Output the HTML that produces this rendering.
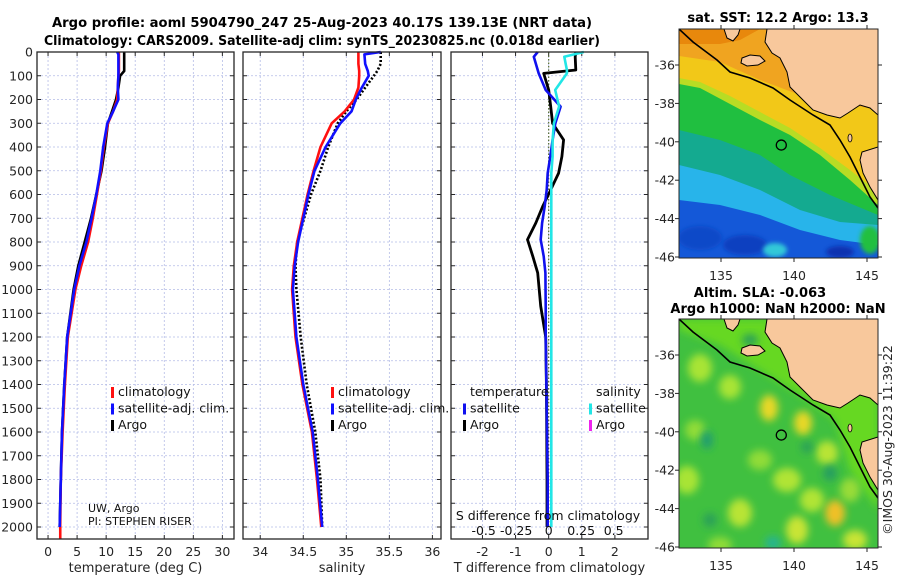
<!DOCTYPE html>
<html><head><meta charset="utf-8">
<style>
html,body{margin:0;padding:0;background:#fff;}
svg{display:block;font-family:"DejaVu Sans","Liberation Sans",sans-serif;}
</style></head>
<body>
<svg id="fig" width="900" height="580" viewBox="0 0 900 580" xmlns="http://www.w3.org/2000/svg">
<defs>
  <filter id="blur4" x="-50%" y="-50%" width="200%" height="200%"><feGaussianBlur stdDeviation="4"/></filter>
  <filter id="blur2" x="-50%" y="-50%" width="200%" height="200%"><feGaussianBlur stdDeviation="2"/></filter>
  <clipPath id="clipTop"><rect x="679" y="29" width="199" height="229"/></clipPath>
  <clipPath id="clipBot"><rect x="679" y="319" width="199" height="229"/></clipPath>
</defs>
<g font-weight="bold" font-size="13" fill="#000" text-anchor="middle">
  <text x="322" y="27" textLength="540" lengthAdjust="spacingAndGlyphs">Argo profile: aoml 5904790_247 25-Aug-2023 40.17S 139.13E (NRT data)</text>
  <text x="322" y="45" textLength="556" lengthAdjust="spacingAndGlyphs">Climatology: CARS2009. Satellite-adj clim: synTS_20230825.nc (0.018d earlier)</text>
</g>
<g id="panels"></g>
<g id="maps"></g>
<text x="0" y="0" transform="translate(892,440) rotate(-90)" text-anchor="middle" font-size="12.5" fill="#262626">©IMOS 30-Aug-2023 11:39:22</text>
</svg>
<script>
// ---------- profile data ----------
const depths = [0,10,50,80,100,150,200,250,300,400,500,600,700,800,900,1000,1200,1400,1600,1800,2000];
const climT = [12.2,12.2,12.2,12.2,12.1,12.0,11.9,11.2,10.3,9.6,9.1,8.4,7.7,6.9,5.7,4.7,3.4,2.9,2.5,2.2,2.1];
const satT  = [11.9,12.1,12.1,12.1,12.1,12.0,12.1,11.2,10.2,9.5,9.0,8.3,7.5,6.6,5.4,4.5,3.3,2.8,2.4,2.2,2.0];
const argoT = [13.1,13.1,13.1,13.1,12.4,12.1,11.7,11.0,10.3,9.8,9.2,8.3,7.4,6.3,5.2,4.4,3.3,2.8,2.4,2.2,2.0];
const climS = [35.14,35.14,35.14,35.15,35.15,35.14,35.09,34.98,34.83,34.70,34.62,34.55,34.49,34.43,34.39,34.37,34.41,34.49,34.60,34.66,34.71];
const satS  = [35.40,35.21,35.22,35.25,35.26,35.18,35.11,35.06,34.93,34.76,34.63,34.56,34.50,34.44,34.40,34.38,34.42,34.50,34.61,34.67,34.72];
const argoS = [35.40,35.40,35.40,35.36,35.32,35.22,35.12,35.00,34.90,34.79,34.70,34.59,34.51,34.43,34.41,34.42,34.47,34.54,34.64,34.70,34.72];
const diffDepths = [0,20,76,90,160,230,300,370,440,510,580,650,720,790,860,930,1070,1200,1400,1600,1800,2000];
const argoTdiff = [0.82,0.80,0.82,-0.15,0.00,0.06,0.12,0.45,0.40,0.30,0.06,-0.18,-0.39,-0.64,-0.48,-0.33,-0.24,-0.09,-0.07,-0.06,-0.05,-0.05];
const satTdiff  = [-0.33,-0.45,-0.33,-0.30,-0.09,0.36,0.20,0.12,0.05,-0.03,-0.06,-0.12,-0.20,-0.24,-0.15,-0.10,-0.09,-0.09,-0.07,-0.05,-0.03,-0.03];
const satSdiff  = [0.27,0.12,0.14,0.14,0.05,0.08,0.04,0.03,0.03,0.02,0.02,0.02,0.02,0.02,0.02,0.02,0.02,0.02,0.02,0.02,0.02,0.02];
const depthTicks = [0,100,200,300,400,500,600,700,800,900,1000,1100,1200,1300,1400,1500,1600,1700,1800,1900,2000];
const tTicks = [0,5,10,15,20,25,30];
const sTicks = [34,34.5,35,35.5,36];
const dTicks = [-2,-1,0,1,2];
const sdTicks = [-0.5,-0.25,0,0.25,0.5];
const sdTickLabels = ["-0.5","-0.25","0","0.25","0.5"];
const lonTicks = [135,140,145];
const latTicks = [-36,-38,-40,-42,-44,-46];
const argoLon = 139.13, argoLat = -40.17;

const NS = "http://www.w3.org/2000/svg";
function el(tag, attrs, parent){const e=document.createElementNS(NS,tag);for(const k in attrs)e.setAttribute(k,attrs[k]);if(parent)parent.appendChild(e);return e;}
function txt(str, attrs, parent){const e=el('text',attrs,parent);e.textContent=str;return e;}

const TOP=52, BOT=539;
const yD = d => TOP + d*0.2375;
const panelsG = document.getElementById('panels');

function makePanel(name, x0, x1, xmin, xmax){
  const g = el('g',{},panelsG);
  
  
  const sx = v => x0 + (v-xmin)/(xmax-xmin)*(x1-x0);
  return {g, sx, x0, x1};
}
function frame(p, xt, xtLabels, title){
  const g=p.g;
  const grid = el('g',{stroke:'#b4bce6','stroke-width':'0.8','stroke-dasharray':'2,2'},g);
  
  
  depthTicks.forEach(d=>{ el('line',{x1:p.x0,x2:p.x1,y1:yD(d),y2:yD(d)},grid); });
  xt.forEach(v=>{ el('line',{x1:p.sx(v),x2:p.sx(v),y1:TOP,y2:BOT},grid); });
  const tk = el('g',{stroke:'#262626','stroke-width':'1'},g);
  depthTicks.forEach(d=>{ el('line',{x1:p.x0,x2:p.x0+4,y1:yD(d),y2:yD(d)},tk); el('line',{x1:p.x1,x2:p.x1-4,y1:yD(d),y2:yD(d)},tk); });
  xt.forEach(v=>{ el('line',{x1:p.sx(v),x2:p.sx(v),y1:BOT,y2:BOT-4},tk); el('line',{x1:p.sx(v),x2:p.sx(v),y1:TOP,y2:TOP+4},tk); });
  const labs = el('g',{'font-size':'12.5',fill:'#262626','text-anchor':'middle'},g);
  
  
  xt.forEach((v,i)=>{ txt(xtLabels[i], {x:p.sx(v), y:556}, labs); });
  const t = txt(title,{x:(p.x0+p.x1)/2,y:572,'font-size':'13',fill:'#262626','text-anchor':'middle'},g);
  
  
}
function border(p){
  const r = el('rect',{x:p.x0,y:TOP,width:p.x1-p.x0,height:BOT-TOP,fill:'none',stroke:'#262626','stroke-width':'1.3'},p.g);
  
  
}
function line(p, xs, ds, sx, color, w, name, dash){
  const pts = xs.map((v,i)=>sx(v).toFixed(1)+','+yD(ds[i]).toFixed(1)).join(' ');
  const a = {points:pts,fill:'none',stroke:color,'stroke-width':w,'stroke-linejoin':'round'};
  if(dash) a['stroke-dasharray']=dash;
  const l = el('polyline',a,p.g);
  
  
}
function legend(p, x, items){
  const g = el('g',{'font-size':'12.5',fill:'#111'},p.g);
  
  
  items.forEach((it,i)=>{
    if(it.head){ txt(it.label,{x:x,y:396+i*16.5},g); return; }
    el('rect',{x:x-7,y:387+i*16.5,width:3,height:11,fill:it.color},g);
    const t=txt(it.label,{x:x,y:396+i*16.5},g);
    
    
  });
}

const p1 = makePanel('temperature-panel',37,234,-1.9,32);
frame(p1,tTicks,tTicks.map(String),'temperature (deg C)');
line(p1,argoT,depths,p1.sx,'#000','2.6','argo-temperature-line');
line(p1,climT,depths,p1.sx,'#ff1010','2.6','climatology-temperature-line');
line(p1,satT,depths,p1.sx,'#1010ff','2.6','satellite-temperature-line');
el('line',{x1:p1.sx(2.1),x2:p1.sx(2.1),y1:yD(2000),y2:BOT,stroke:'#ff1010','stroke-width':'2.6'},p1.g);
legend(p1,118,[{label:'climatology',color:'#ff1010'},{label:'satellite-adj. clim.',color:'#1010ff'},{label:'Argo',color:'#000'}]);
const pi = el('g',{'font-size':'11',fill:'#111'},p1.g);


txt('UW, Argo',{x:88,y:512},pi); txt('PI: STEPHEN RISER',{x:88,y:525},pi);
border(p1);
const yl = el('g',{'font-size':'12.5',fill:'#262626','text-anchor':'end'},panelsG);


depthTicks.forEach(d=>{ txt(String(d),{x:33,y:yD(d)+4.5},yl); });

const p2 = makePanel('salinity-panel',243,441,33.8,36.1);
frame(p2,sTicks,sTicks.map(String),'salinity');
line(p2,argoS,depths,p2.sx,'#000','2.6','argo-salinity-line','2,2');
line(p2,climS,depths,p2.sx,'#ff1010','2.6','climatology-salinity-line');
line(p2,satS,depths,p2.sx,'#1010ff','2.6','satellite-salinity-line');
legend(p2,338,[{label:'climatology',color:'#ff1010'},{label:'satellite-adj. clim.',color:'#1010ff'},{label:'Argo',color:'#000'}]);
border(p2);

const p3 = makePanel('difference-panel',451,648,-2.95,3.0);
frame(p3,dTicks,dTicks.map(String),'T difference from climatology');
const sxS = v => p3.sx(0) + v*130;
el('line',{x1:p3.sx(0),x2:p3.sx(0),y1:TOP,y2:yD(2000),stroke:'#556b2f','stroke-width':'1.2','stroke-dasharray':'1.5,2'},p3.g);
line(p3,argoTdiff,diffDepths,p3.sx,'#000','2.8','argo-temperature-difference-line');
line(p3,satTdiff,diffDepths,p3.sx,'#1010ee','2.6','satellite-temperature-difference-line');
line(p3,satSdiff,diffDepths,sxS,'#22e6e6','2.6','satellite-salinity-difference-line');
legend(p3,470,[{head:true,label:'temperature'},{label:'satellite',color:'#1010ee'},{label:'Argo',color:'#000'}]);
legend(p3,596,[{head:true,label:'salinity'},{label:'satellite',color:'#22e6e6'},{label:'Argo',color:'#ee22ee'}]);
const sl = el('g',{'font-size':'12.5',fill:'#111','text-anchor':'middle'},p3.g);


txt('S difference from climatology',{x:548,y:520},sl);
sdTicks.forEach((v,i)=>{ txt(sdTickLabels[i],{x:sxS(v),y:535},sl); });
border(p3);

// ---------- maps ----------
const mapsG = document.getElementById('maps');
const MX0=679, MX1=878;
const mx = lon => 721 + (lon-135)*14.6;
const myTop = lat => 65 + (-36-lat)*19.2;
const landMain = "767,29 765,42 772,53 780,58 787,72 790,87 800,97 813,110 827,115 840,118 848,113 860,105 870,108 878,115 878,29";
const landSmall = "724,29 727,38 733,41 738,35 740,29";
const kangaroo = "742,58 750,55 760,56 765,61 758,65 747,66 741,63";
const landRight = "878,147 862,152 860,160 863,173 870,187 878,200";
const shelf = "679,29 693,42 717,60 730,72 750,78 773,88 790,100 813,115 830,125 840,140 850,157 860,177 870,197 878,208";

function mapFrame(g, dy, title1, title2){
  el('rect',{x:MX0,y:29+dy,width:MX1-MX0,height:229,fill:'none',stroke:'#262626','stroke-width':'1'},g);
  const tk = el('g',{stroke:'#262626'},g);
  const lab = el('g',{'font-size':'12.5',fill:'#262626'},g);
  latTicks.forEach(l=>{ const y=myTop(l)+dy; el('line',{x1:MX0,x2:MX0-4,y1:y,y2:y},tk); el('line',{x1:MX1,x2:MX1+4,y1:y,y2:y},tk); txt(String(l),{x:675,y:y+4.5,'text-anchor':'end'},lab); });
  lonTicks.forEach(l=>{ const x=mx(l); el('line',{x1:x,x2:x,y1:258+dy,y2:262+dy},tk); el('line',{x1:x,x2:x,y1:29+dy,y2:25+dy},tk); txt(String(l),{x:x,y:280+dy,'text-anchor':'middle'},lab); });
  const tg = el('g',{'font-size':'13','font-weight':'bold',fill:'#000','text-anchor':'middle'},g);
  
  
  if(title2){ txt(title1,{x:760,y:297},tg); txt(title2,{x:778,y:313},tg); }
  else txt(title1,{x:778,y:22},tg);
}
function landLayer(g, dy){
  const lg = el('g',{transform:'translate(0,'+dy+')'},g);
  
  
  [landMain,landSmall,kangaroo,landRight].forEach(p=>el('polygon',{points:p,fill:'#f8c89c',stroke:'#000','stroke-width':'1'},lg));
  el('ellipse',{cx:850,cy:138,rx:2,ry:4,fill:'#f8c89c',stroke:'#000','stroke-width':'0.8'},lg);
  el('polyline',{points:shelf,fill:'none',stroke:'#000','stroke-width':'1.6'},lg);
  el('circle',{cx:mx(argoLon),cy:myTop(argoLat),r:5,fill:'none',stroke:'#000','stroke-width':'1.3'},lg);
}

// SST map
const sst = el('g',{},mapsG);


const sstF = el('g',{'clip-path':'url(#clipTop)'},sst);
el('rect',{x:MX0,y:29,width:199,height:229,fill:'#1458d8'},sstF);
const bands = [
  ['#28b4ea',"679,29 878,29 878,245 840,240 800,230 760,215 720,205 679,200"],
  ['#14aa90',"679,29 878,29 878,225 840,222 800,210 760,190 720,175 679,165"],
  ['#20bf40',"679,29 878,29 878,215 830,195 790,175 760,155 720,140 679,130"],
  ['#b8dc24',"679,29 878,29 878,205 850,180 820,155 790,135 760,120 730,104 700,88 679,84"],
  ['#f2c818',"679,29 878,29 878,192 850,170 820,148 790,128 760,112 730,96 700,82 679,78"],
  ['#f0a420',"679,29 878,29 878,110 800,95 760,80 720,62 679,56"],
  ['#e8880c',"679,29 760,29 740,40 720,44 679,44"]
];
bands.forEach(b=>el('polygon',{points:b[1],fill:b[0]},sstF));
el('ellipse',{cx:700,cy:238,rx:22,ry:12,fill:'#0c48c8',filter:'url(#blur2)'},sstF);
el('ellipse',{cx:745,cy:245,rx:22,ry:10,fill:'#0c40c0',filter:'url(#blur2)'},sstF);
el('ellipse',{cx:775,cy:250,rx:12,ry:7,fill:'#30c8d8',filter:'url(#blur2)'},sstF);
el('ellipse',{cx:840,cy:252,rx:14,ry:6,fill:'#0c30b0',filter:'url(#blur2)'},sstF);
el('ellipse',{cx:870,cy:240,rx:10,ry:14,fill:'#20bf40',filter:'url(#blur2)'},sstF);
landLayer(sstF,0);
mapFrame(sst,0,'sat. SST: 12.2 Argo: 13.3');

// SLA map
const sla = el('g',{},mapsG);


const slaF = el('g',{'clip-path':'url(#clipBot)'},sla);
el('rect',{x:MX0,y:319,width:199,height:229,fill:'#40c040'},slaF);
el('polygon',{points:"679,319 878,319 878,510 850,470 835,420 800,395 760,370 720,345 679,330",fill:'#66d822',filter:'url(#blur4)'},slaF);
const blobs = [
  ['#a8e434',700,368,12,14],['#a8e434',730,387,11,12],['#a8e434',687,480,12,14],['#b8e434',740,513,12,14],
  ['#c8e434',797,530,11,14],['#b0e434',787,480,14,12],['#b8e434',827,453,11,12],['#b0e434',812,500,12,12],
  ['#e8d828',769,408,9,13],['#e8d828',803,423,9,12],['#f0c028',835,513,10,13],['#c8e434',855,540,12,10],
  ['#90dc38',695,430,10,10],['#90dc38',760,460,12,10],['#90dc38',720,545,12,8],['#98dc38',850,490,10,12],
  ['#229e70',707,440,6,9],['#28b490',773,543,8,7],['#289e60',830,473,7,8],['#2aa058',807,447,6,6],['#2aa058',750,340,8,6],['#2aa058',710,520,7,7]
];
blobs.forEach(b=>el('ellipse',{cx:b[1],cy:b[2],rx:b[3],ry:b[4],fill:b[0],filter:'url(#blur4)'},slaF));
landLayer(slaF,290);
mapFrame(sla,290,'Altim. SLA: -0.063','Argo h1000: NaN h2000: NaN');
</script>
</body></html>
